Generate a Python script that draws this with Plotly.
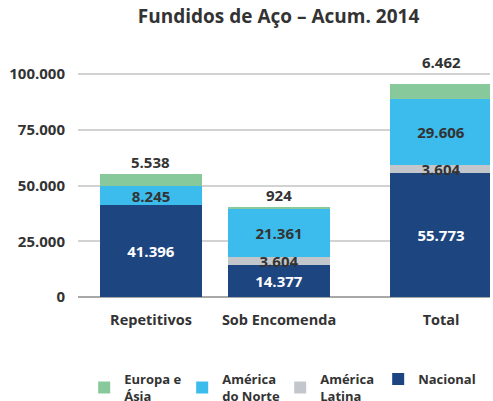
import plotly.graph_objects as go

categories = ["Repetitivos", "Sob Encomenda", "Total"]
nacional = [41396, 14377, 55773]
america_latina = [0, 3604, 3604]
america_norte = [8245, 21361, 29606]
europa_asia = [5538, 924, 6462]
y_ticks = [0, 25000, 50000, 75000, 100000]

x_pos = [0, 1, 2.266]
bar_w = 0.8
font_family = "Open Sans"
dark = "#333333"

fig = go.Figure()

def add(name, vals, color, rank, txtcolor, show_text=True):
    texts = [("" if v == 0 else f"{v:,}".replace(",", ".")) for v in vals] if show_text else None
    fig.add_trace(go.Bar(
        x=x_pos, y=vals, name=name, width=bar_w,
        marker=dict(color=color, line=dict(width=0)),
        text=texts, textposition="inside", insidetextanchor="middle",
        constraintext="none", textangle=0,
        textfont=dict(family=font_family, size=15, color=txtcolor, weight="bold"),
        legendrank=rank, hoverinfo="skip",
    ))

add("Nacional", nacional, "#1d4680", 4, "white")
add("América<br>Latina", america_latina, "#c3c7cb", 3, dark)
add("América<br>do Norte", america_norte, "#3cbcec", 2, dark)
add("Europa e<br>Ásia", europa_asia, "#88c99c", 1, dark, show_text=False)

totals = [a + b + c + d for a, b, c, d in zip(nacional, america_latina, america_norte, europa_asia)]
shifts = [0, 0, 10]
for xp, t, v, s in zip(x_pos, totals, europa_asia, shifts):
    fig.add_annotation(x=xp, y=t, text=f"{v:,}".replace(",", "."), showarrow=False,
                       yanchor="bottom", yshift=s,
                       font=dict(family=font_family, size=15, color=dark, weight="bold"))

fig.update_layout(
    width=493, height=401,
    barmode="stack", bargap=0,
    separators=",.",
    paper_bgcolor="white", plot_bgcolor="white",
    margin=dict(l=78, r=3, t=63, b=104, autoexpand=False),
    title=dict(text="Fundidos de Aço – Acum. 2014", x=0.565, xanchor="center", y=0.96, yanchor="middle",
               font=dict(family=font_family, size=19, color=dark, weight="bold")),
    xaxis=dict(range=[-0.57, 2.648], tickvals=x_pos, ticktext=categories, automargin=False,
               ticks="outside", ticklen=10, tickcolor="rgba(0,0,0,0)",
               showgrid=False, zeroline=False, showline=False,
               tickfont=dict(family=font_family, size=14.5, color=dark, weight="bold")),
    yaxis=dict(range=[0, 105000], tickvals=y_ticks, tickformat=",d", automargin=False,
               ticks="outside", ticklen=9, tickcolor="rgba(0,0,0,0)",
               showgrid=True, gridcolor="#d2d2d2", gridwidth=1.5,
               zeroline=True, zerolinecolor="#a8a8a8", zerolinewidth=2,
               tickfont=dict(family=font_family, size=15, color=dark, weight="bold")),
    legend=dict(orientation="h", traceorder="normal",
                x=0.015, xanchor="left", xref="paper",
                y=0.092, yanchor="top", yref="container",
                entrywidth=53, entrywidthmode="pixels", itemwidth=30,
                font=dict(family=font_family, size=13, color=dark, weight="bold"),
                tracegroupgap=0),
    showlegend=True,
)

fig.write_html("out.html", config={"displayModeBar": False},
               post_script="document.body.style.margin='0';")
